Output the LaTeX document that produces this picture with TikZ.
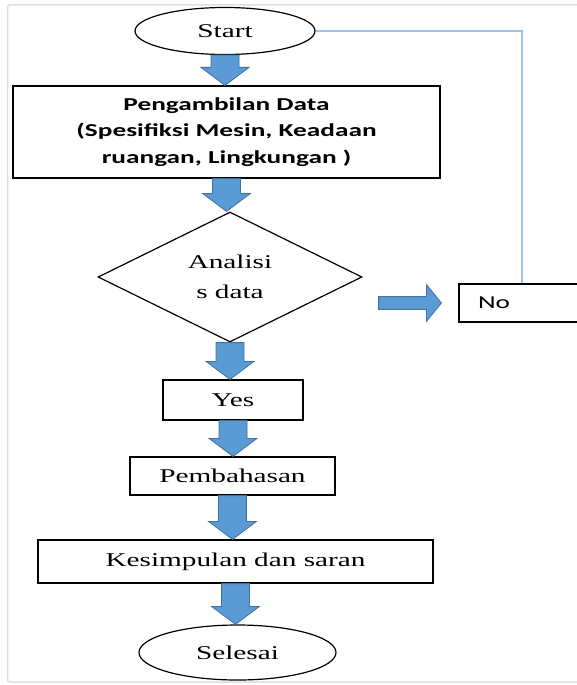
\documentclass[tikz,border=0pt]{standalone}
\usepackage{fontspec}
\usetikzlibrary{shapes.geometric,calc}
\newfontfamily\ftnr{Liberation Serif}[FakeStretch=1.5]
\newfontfamily\fcal{Carlito}[FakeStretch=1.5]
\definecolor{arrfill}{HTML}{5B9BD5}
\definecolor{arrline}{HTML}{41719C}
\definecolor{loopline}{HTML}{9DC3E6}
\tikzset{
  base/.style={draw=black, line width=1.2pt, inner sep=0pt},
  oval/.style={base, ellipse, font=\ftnr\fontsize{19.5}{30}\selectfont},
  procbox/.style={base, rectangle, align=center, font=\ftnr\fontsize{19.5}{30}\selectfont},
  boldbox/.style={base, rectangle, align=center, font=\fcal\bfseries\fontsize{18.2}{26.5}\selectfont},
  decision/.style={base, diamond, align=center, font=\ftnr\fontsize{19.5}{30}\selectfont},
  blockarrow/.style={fill=arrfill, draw=arrline, line width=0.8pt, line join=miter},
  loop/.style={draw=loopline, line width=1.6pt},
  frame/.style={draw=gray!25, line width=1.5pt, rounded corners=2pt}
}
\newcommand{\vblock}[2]{%
  \draw[blockarrow] let \p1=(#1.south), \p2=(#2.north) in
    (\x1-14pt,\y1) -- (\x1+14pt,\y1) -- (\x1+14pt,\y2+18pt) -- (\x1+24pt,\y2+18pt)
    -- (\x1,\y2) -- (\x1-24pt,\y2+18pt) -- (\x1-14pt,\y2+18pt) -- cycle;}
\begin{document}
\begin{tikzpicture}[x=1pt,y=-1pt]
\clip (0,0) rectangle (577,685);
\draw[frame] (7.5,5) rectangle (600,682);

\node[oval, minimum width=180pt, minimum height=47pt] (start) at (225,31) {Start};
\node[boldbox, minimum width=427pt, minimum height=92pt] (data) at (226.5,132)
  {Pengambilan Data\\(Spesifiksi Mesin, Keadaan\\ruangan, Lingkungan )};
\node[decision, minimum width=264pt, minimum height=130pt, aspect=2.03] (dec) at (230,277)
  {Analisi\\s data};
\node[base, rectangle, minimum width=126pt, minimum height=38pt, text width=88pt,
  inner xsep=19pt, align=left, font=\fcal\fontsize{18.2}{22}\selectfont] (no) at (522,303) {No};
\node[procbox, minimum width=140pt, minimum height=40pt] (yes) at (233,400) {Yes};
\node[procbox, minimum width=205pt, minimum height=38pt] (bahas) at (232.5,476) {Pembahasan};
\node[procbox, minimum width=395pt, minimum height=43pt] (simpul) at (235.5,561.5) {Kesimpulan dan saran};
\node[oval, minimum width=197pt, minimum height=55pt] (end) at (237.5,652.5) {Selesai};

\vblock{start}{data}
\vblock{data}{dec}
\vblock{dec}{yes}
\vblock{yes}{bahas}
\vblock{bahas}{simpul}
\vblock{simpul}{end}

\draw[blockarrow] let \p1=(dec.east), \p2=(no.west) in
  (\x1+16pt,\y2+6.5pt) -- (\x2-32pt,\y2+6.5pt) -- (\x2-32pt,\y2+18.5pt)
  -- (\x2-17pt,\y2) -- (\x2-32pt,\y2-18.5pt) -- (\x2-32pt,\y2-6.5pt)
  -- (\x1+16pt,\y2-6.5pt) -- cycle;

\draw[loop] (start.east) -| (no.north);
\end{tikzpicture}
\end{document}
